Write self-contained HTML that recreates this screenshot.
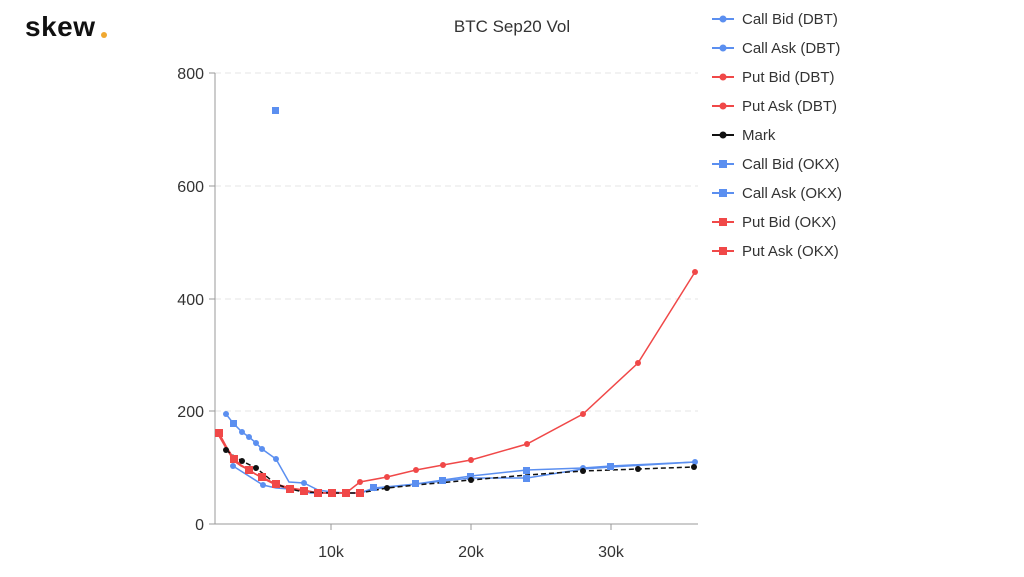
<!DOCTYPE html>
<html><head><style>
body{margin:0;background:#fff;width:1024px;height:572px;overflow:hidden;font-family:"Liberation Sans",sans-serif}
</style></head><body>
<svg width="1024" height="572" xmlns="http://www.w3.org/2000/svg" font-family="Liberation Sans, sans-serif">
<text x="25" y="36" font-size="28" font-weight="bold" fill="#111" letter-spacing="0.5">skew</text><circle cx="104" cy="35" r="3" fill="#f0a830"/>
<text x="512" y="32" font-size="17" text-anchor="middle" fill="#333">BTC Sep20 Vol</text>
<g stroke="#e6e6e6" stroke-dasharray="6,4">
<line x1="215" x2="698" y1="73" y2="73"/><line x1="215" x2="698" y1="186" y2="186"/><line x1="215" x2="698" y1="299" y2="299"/><line x1="215" x2="698" y1="411" y2="411"/></g>
<line x1="215" y1="73" x2="215" y2="524" stroke="#999"/><line x1="215" y1="524" x2="698" y2="524" stroke="#999"/>
<g stroke="#999"><line x1="209" x2="215" y1="73" y2="73"/><line x1="209" x2="215" y1="186" y2="186"/><line x1="209" x2="215" y1="299" y2="299"/><line x1="209" x2="215" y1="411" y2="411"/><line x1="209" x2="215" y1="524" y2="524"/>
<line x1="331" x2="331" y1="524" y2="530"/><line x1="471" x2="471" y1="524" y2="530"/><line x1="611" x2="611" y1="524" y2="530"/></g>
<g font-size="16" fill="#333" text-anchor="end"><text x="204" y="79">800</text><text x="204" y="192">600</text><text x="204" y="305">400</text><text x="204" y="417">200</text><text x="204" y="530">0</text></g>
<g font-size="16" fill="#333" text-anchor="middle"><text x="331" y="557">10k</text><text x="471" y="557">20k</text><text x="611" y="557">30k</text></g>
<g fill="none" stroke-width="1.5">
<polyline stroke="#5b8ff0" points="226,414 233,423 242,432 249,437 256,443 262,449 276,459 289,482 304,483 318,490 332,492 346,493 360,493 374,488 416,484 443,480 471,476 527,470 583,468 611,466 695,462"/>
<polyline stroke="#5b8ff0" points="233,466 263,485 276,488 290,489 304,491 310,493 332,493 360,493 374,489 416,484 443,481 471,478 527,478 583,469 611,467 695,462"/>
<polyline stroke="#f04848" points="219,433 226,446 234,459 241,465 249,470 255,474 262,477 276,484 290,488 304,490 318,493 332,493 346,493 360,482 387,477 416,470 443,465 471,460 527,444 583,414 638,363 695,272"/>
<polyline stroke="#f04848" points="219,436 226,448 234,461 241,466 249,470 262,478 276,485 290,489 304,491 318,493 332,493 346,493 360,493"/>
<polyline stroke="#111" stroke-dasharray="5,3" points="226,450 234,456 242,461 256,468 276,484 290,489 304,492 332,493 360,493 387,488 416,485 471,480 527,475 583,471 638,469 694,467"/>
</g>
<g fill="#5b8ff0"><circle cx="226" cy="414" r="3"/><circle cx="242" cy="432" r="3"/><circle cx="249" cy="437" r="3"/><circle cx="256" cy="443" r="3"/><circle cx="262" cy="449" r="3"/><circle cx="276" cy="459" r="3"/><circle cx="233" cy="466" r="3"/><circle cx="263" cy="485" r="3"/><circle cx="304" cy="483" r="3"/><circle cx="695" cy="462" r="3"/><circle cx="583" cy="468" r="3"/>
<rect x="230" y="420" width="7" height="7"/><rect x="272" y="107" width="7" height="7"/><rect x="370" y="484" width="7" height="7"/><rect x="412" y="480" width="7" height="7"/><rect x="439" y="477" width="7" height="7"/><rect x="467" y="473" width="7" height="7"/><rect x="523" y="467" width="7" height="7"/><rect x="523" y="475" width="7" height="7"/><rect x="607" y="463" width="7" height="7"/></g>
<g fill="#f04848"><circle cx="360" cy="482" r="3"/><circle cx="387" cy="477" r="3"/><circle cx="416" cy="470" r="3"/><circle cx="443" cy="465" r="3"/><circle cx="471" cy="460" r="3"/><circle cx="527" cy="444" r="3"/><circle cx="583" cy="414" r="3"/><circle cx="638" cy="363" r="3"/><circle cx="695" cy="272" r="3"/>
<rect x="215" y="429" width="8" height="8"/><rect x="230" y="455" width="8" height="8"/><rect x="245" y="466" width="8" height="8"/><rect x="258" y="473" width="8" height="8"/><rect x="272" y="480" width="8" height="8"/><rect x="286" y="485" width="8" height="8"/><rect x="300" y="487" width="8" height="8"/><rect x="314" y="489" width="8" height="8"/><rect x="328" y="489" width="8" height="8"/><rect x="342" y="489" width="8" height="8"/><rect x="356" y="489" width="8" height="8"/></g>
<g fill="#111"><circle cx="226" cy="450" r="3"/><circle cx="242" cy="461" r="3"/><circle cx="256" cy="468" r="3"/><circle cx="387" cy="488" r="3"/><circle cx="471" cy="480" r="3"/><circle cx="583" cy="471" r="3"/><circle cx="638" cy="469" r="3"/><circle cx="694" cy="467" r="3"/></g>
<g font-size="15" fill="#333">
<line x1="712" x2="734" y1="19" y2="19" stroke="#5b8ff0" stroke-width="2"/><circle cx="723" cy="19" r="3.5" fill="#5b8ff0"/><text x="742" y="24">Call Bid (DBT)</text>
<line x1="712" x2="734" y1="48" y2="48" stroke="#5b8ff0" stroke-width="2"/><circle cx="723" cy="48" r="3.5" fill="#5b8ff0"/><text x="742" y="53">Call Ask (DBT)</text>
<line x1="712" x2="734" y1="77" y2="77" stroke="#f04848" stroke-width="2"/><circle cx="723" cy="77" r="3.5" fill="#f04848"/><text x="742" y="82">Put Bid (DBT)</text>
<line x1="712" x2="734" y1="106" y2="106" stroke="#f04848" stroke-width="2"/><circle cx="723" cy="106" r="3.5" fill="#f04848"/><text x="742" y="111">Put Ask (DBT)</text>
<line x1="712" x2="734" y1="135" y2="135" stroke="#111" stroke-width="2"/><circle cx="723" cy="135" r="3.5" fill="#111"/><text x="742" y="140">Mark</text>
<line x1="712" x2="734" y1="164" y2="164" stroke="#5b8ff0" stroke-width="2"/><rect x="719" y="160" width="8" height="8" fill="#5b8ff0"/><text x="742" y="169">Call Bid (OKX)</text>
<line x1="712" x2="734" y1="193" y2="193" stroke="#5b8ff0" stroke-width="2"/><rect x="719" y="189" width="8" height="8" fill="#5b8ff0"/><text x="742" y="198">Call Ask (OKX)</text>
<line x1="712" x2="734" y1="222" y2="222" stroke="#f04848" stroke-width="2"/><rect x="719" y="218" width="8" height="8" fill="#f04848"/><text x="742" y="227">Put Bid (OKX)</text>
<line x1="712" x2="734" y1="251" y2="251" stroke="#f04848" stroke-width="2"/><rect x="719" y="247" width="8" height="8" fill="#f04848"/><text x="742" y="256">Put Ask (OKX)</text>
</g>
</svg>
</body></html>
